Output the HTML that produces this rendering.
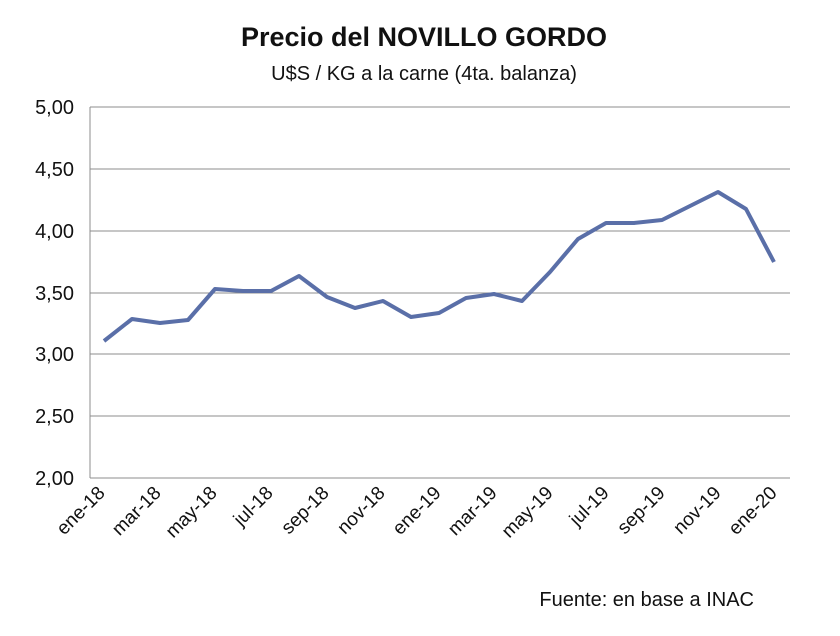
<!DOCTYPE html>
<html><head><meta charset="utf-8"><style>
body{margin:0;background:#fff;}
svg text{font-family:"Liberation Sans",sans-serif;fill:#111;}
</style></head><body>
<svg width="840" height="631" viewBox="0 0 840 631" xmlns="http://www.w3.org/2000/svg">
<rect width="840" height="631" fill="#fff"/>
<text x="424" y="46" text-anchor="middle" font-size="27" font-weight="bold">Precio del NOVILLO GORDO</text>
<text x="424" y="80" text-anchor="middle" font-size="20">U$S / KG a la carne (4ta. balanza)</text>
<g stroke="#8c8c8c" stroke-width="1">
<line x1="90" y1="107" x2="790" y2="107"/>
<line x1="90" y1="169" x2="790" y2="169"/>
<line x1="90" y1="231" x2="790" y2="231"/>
<line x1="90" y1="293" x2="790" y2="293"/>
<line x1="90" y1="354" x2="790" y2="354"/>
<line x1="90" y1="416" x2="790" y2="416"/>
<line x1="90" y1="478" x2="790" y2="478"/>
<line x1="90" y1="107" x2="90" y2="478"/>
</g>
<g font-size="20" text-anchor="end">
<text x="74" y="114">5,00</text>
<text x="74" y="176">4,50</text>
<text x="74" y="238">4,00</text>
<text x="74" y="300">3,50</text>
<text x="74" y="361">3,00</text>
<text x="74" y="423">2,50</text>
<text x="74" y="485">2,00</text>
</g>
<polyline fill="none" stroke="#5a6fa8" stroke-width="4" stroke-linejoin="round" points="104,341 132,319 160,323 188,320 215,289 243,291 271,291 299,276 327,297 355,308 383,301 411,317 439,313 466,298 494,294 522,301 550,272 578,239 606,223 634,223 662,220 690,206 718,192 746,209 774,262"/>
<g font-size="19" text-anchor="end">
<text transform="translate(106,494) rotate(-45)">ene-18</text>
<text transform="translate(162,494) rotate(-45)">mar-18</text>
<text transform="translate(218,494) rotate(-45)">may-18</text>
<text transform="translate(274,494) rotate(-45)">jul-18</text>
<text transform="translate(330,494) rotate(-45)">sep-18</text>
<text transform="translate(386,494) rotate(-45)">nov-18</text>
<text transform="translate(442,494) rotate(-45)">ene-19</text>
<text transform="translate(498,494) rotate(-45)">mar-19</text>
<text transform="translate(554,494) rotate(-45)">may-19</text>
<text transform="translate(610,494) rotate(-45)">jul-19</text>
<text transform="translate(666,494) rotate(-45)">sep-19</text>
<text transform="translate(722,494) rotate(-45)">nov-19</text>
<text transform="translate(778,494) rotate(-45)">ene-20</text>
</g>
<text x="754" y="606" text-anchor="end" font-size="20">Fuente: en base a INAC</text>
</svg>
</body></html>
